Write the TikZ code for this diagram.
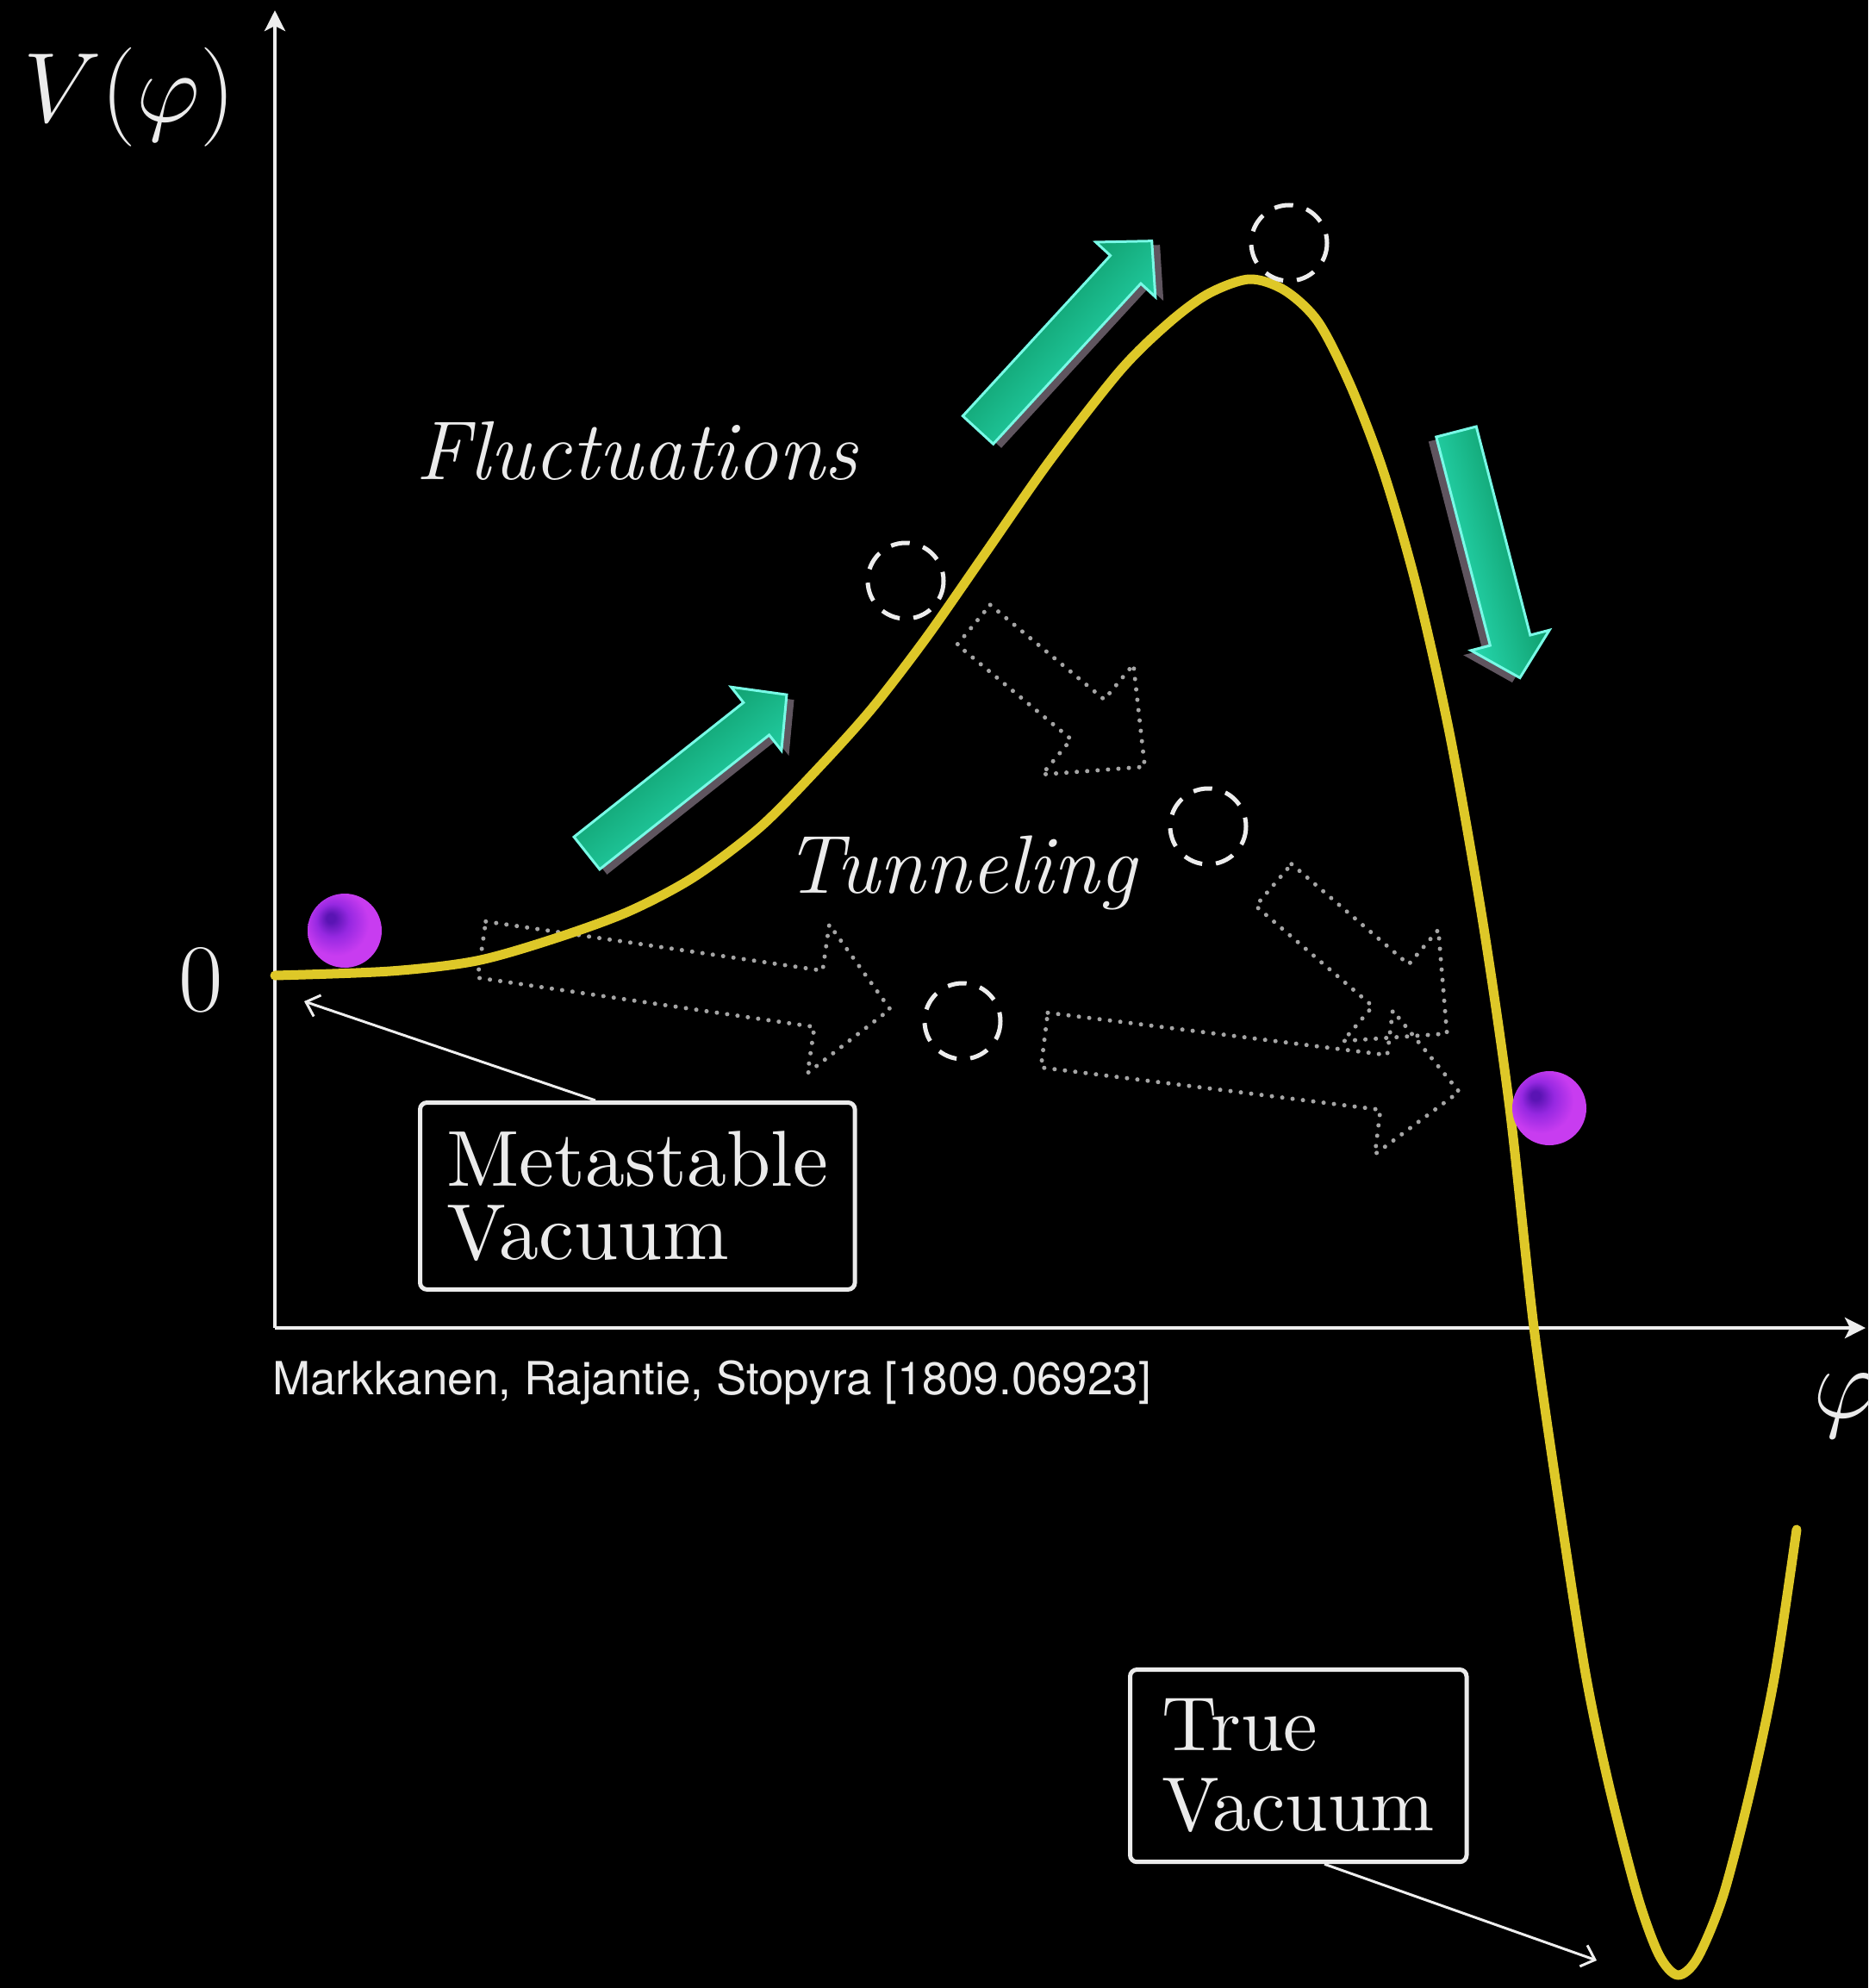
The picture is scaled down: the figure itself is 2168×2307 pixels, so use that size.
\RequirePackage{fix-cm}
\documentclass[tikz,border=0pt]{standalone}
\usepackage{fontspec}
\newfontfamily\citefont{TeX Gyre Heros}
\newfontfamily\lmten{lmroman10}[Extension=.otf, UprightFont=*-regular, ItalicFont=*-italic]
\usetikzlibrary{arrows.meta}
\definecolor{curvey}{RGB}{222,200,40}
\definecolor{gdark}{RGB}{5,130,78}
\definecolor{glight}{RGB}{45,235,195}
\definecolor{gedge}{RGB}{120,250,230}
\definecolor{gshadow}{RGB}{95,85,95}
\definecolor{dotgray}{RGB}{165,165,165}
\definecolor{txt}{RGB}{235,235,235}
\definecolor{pdark}{RGB}{90,20,180}
\definecolor{pmid}{RGB}{150,40,225}
\definecolor{pout}{RGB}{200,60,240}
\definecolor{pedge}{RGB}{222,105,246}
\pgfdeclareradialshading{pball}{\pgfpoint{-10bp}{9bp}}{color(0bp)=(pdark); color(3bp)=(pdark); color(11bp)=(pmid); color(22bp)=(pout); color(44bp)=(pout); color(50bp)=(pedge)}
\tikzset{
  curveline/.style={draw=curvey, line width=11pt, line cap=round, line join=round},
  axisline/.style={draw=txt!85, line width=4pt, -{Stealth[length=24pt,width=24pt,inset=6pt]}},
  ptr/.style={draw=txt!85, line width=3pt, -{Straight Barb[length=14pt,width=26pt]}},
  vbox/.style={draw=txt, line width=5pt, rounded corners=8pt, align=left, text=txt},
  lab/.style={text=txt, inner sep=0pt},
  dashcirc/.style={draw=txt!90, line width=5pt, dash pattern=on 22pt off 16pt},
  dotarr/.style={draw=dotgray, line width=5pt, line cap=round, dash pattern=on 0.1pt off 12pt},
  ballsty/.style={shading=pball},
}
% green block arrow: tail x, tail y, angle, length
\newcommand\garrow[4]{%
  \begin{scope}[shift={(#1,#2)}, rotate=#3]
    \fill[gshadow] ([shift={(3,10)}]0,-24) -- ([shift={(3,10)}]{#4-45},-24) -- ([shift={(3,10)}]{#4-45},-47) -- ([shift={(3,10)}]#4,0) -- ([shift={(3,10)}]{#4-45},47) -- ([shift={(3,10)}]{#4-45},24) -- ([shift={(3,10)}]0,24) -- cycle;
    \shade[top color=gdark, bottom color=glight, shading angle=#3, draw=gedge, line width=3pt, line join=miter]
      (0,-24) -- ({#4-45},-24) -- ({#4-45},-47) -- (#4,0) -- ({#4-45},47) -- ({#4-45},24) -- (0,24) -- cycle;
  \end{scope}}
% dotted block arrow: tail x, tail y, angle, length, shaft half width, head half width, head length
\newcommand\darrow[7]{%
  \begin{scope}[shift={(#1,#2)}, rotate=#3]
    \draw[dotarr] (0,-#5) -- ({#4-#7},-#5) -- ({#4-#7},-#6) -- (#4,0) -- ({#4-#7},#6) -- ({#4-#7},#5) -- (0,#5) -- cycle;
  \end{scope}}
\begin{document}
\begin{tikzpicture}[x=1pt, y=-1pt]
\fill[black] (0,0) rectangle (2168,2307);
\useasboundingbox (0,0) rectangle (2168,2307);

% axes
\coordinate (O) at (319,1541);
\coordinate (ytip) at (319,12);
\coordinate (xtip) at (2165,1541);
\draw[axisline] (O) -- (ytip);
\draw[axisline] (O) -- (xtip);

% axis labels
\node[lab, anchor=base, font=\fontsize{115}{115}\selectfont] (vlab) at (150,141) {$V(\varphi)$};
\node[lab, anchor=base, font=\fontsize{112}{112}\selectfont] (zero) at (233,1173) {0};
\node[lab, anchor=base west, font=\fontsize{118}{118}\selectfont] (philab) at (2104,1645) {$\varphi$};

% dotted tunneling arrows
\darrow{559}{1102}{-8.3}{479}{33}{87}{84}
\darrow{1130}{725}{-39.7}{258}{30}{83}{86}
\darrow{1478}{1027}{-40.6}{265}{32}{85}{86}
\darrow{1212}{1207}{-7.1}{485}{32}{84}{88}

% potential curve
\draw[curveline] plot[smooth, tension=0.5] coordinates {
  (319,1132) (453,1127) (553,1115) (644,1089) (729,1058) (805,1018) (882,960)
  (950,891) (1012,822) (1075,740) (1142,644) (1218,535) (1300,430) (1356,375)
  (1402,341) (1450,324) (1491,337) (1530,374) (1568,449) (1606,549) (1644,681)
  (1683,855) (1721,1071) (1752,1286) (1780,1540) (1810,1750) (1840,1942)
  (1867,2071) (1900,2199) (1925,2268) (1947,2292) (1970,2272) (2000,2199)
  (2033,2071) (2060,1942) (2085,1775)};

% balls
\shade[ballsty] (400,1080) circle[radius=43];
\shade[ballsty] (1798,1286) circle[radius=43];

% dashed circles
\draw[dashcirc] (1496,282) circle[radius=44];
\draw[dashcirc] (1051,674) circle[radius=44];
\draw[dashcirc] (1402,959) circle[radius=44];
\draw[dashcirc] (1117,1185) circle[radius=44];

% green fluctuation arrows
\garrow{681}{990}{38.4}{296}
\garrow{1135}{499}{47.4}{298}
\garrow{1690}{501}{-75.5}{295}

% texts
\node[lab, anchor=base, font=\fontsize{97}{97}\selectfont\itshape] (fluct) at (739,556) {Fluctuations};
\node[lab, anchor=base west, font=\fontsize{96}{96}\selectfont\itshape] (tunn) at (910,1036) {Tunneling};
\node[lab, anchor=base west, font=\fontsize{53}{53}\selectfont\citefont] (cite) at (316,1618) {Markkanen, Rajantie, Stopyra [1809.06923]};

% label boxes
\node[vbox, anchor=north west, inner xsep=31pt, inner ysep=33pt, font=\lmten\fontsize{92}{85}\selectfont] (meta) at (485,1277) {Metastable\\Vacuum};
\node[vbox, anchor=north west, inner xsep=37pt, inner ysep=34pt, font=\lmten\fontsize{89}{93}\selectfont] (truev) at (1309,1935) {True\\Vacuum};

\coordinate (mtip) at (353,1162);
\coordinate (ttip) at (1853,2275);
\draw[ptr] ([xshift=206pt]meta.north west) -- (mtip);
\draw[ptr] ([xshift=228pt]truev.south west) -- (ttip);
\end{tikzpicture}
\end{document}
